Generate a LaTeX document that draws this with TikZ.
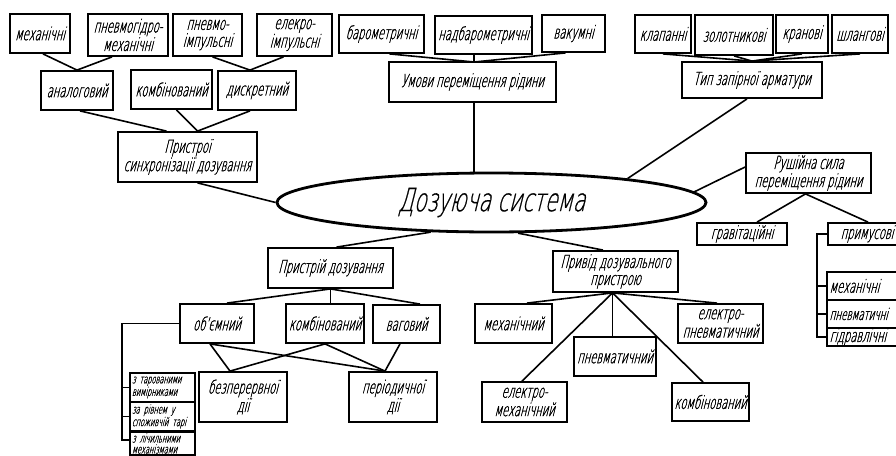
\documentclass[tikz,border=0pt]{standalone}
\usepackage{fontspec}
\newfontfamily\gost{DejaVu Sans ExtraLight}[FakeSlant=0.25,FakeStretch=0.55,FakeBold=1]
\newfontfamily\gostw{DejaVu Sans ExtraLight}[FakeSlant=0.25,FakeStretch=0.64,FakeBold=0.6]
\usetikzlibrary{shapes.geometric,calc}
\tikzset{
  box/.style={draw, line width=1.8pt, inner sep=0pt, align=center,
    font=\gost\fontsize{18}{17}\selectfont},
  lbox/.style={box, align=left, inner xsep=2.5pt, text width=75pt},
  sbox/.style={draw, line width=1.3pt, inner xsep=2pt, inner ysep=0pt, align=left,
    text width=61pt, minimum width=65pt, minimum height=29pt,
    font=\gost\fontsize{12}{11}\selectfont},
  conn/.style={line width=1.6pt},
}
\newcommand\mybox[6]{\node[box,minimum width=#4pt,minimum height=#5pt] (#1) at (#2,#3) {#6};}
\begin{document}
\begin{tikzpicture}[x=1pt,y=-1pt]
\useasboundingbox (0,0) rectangle (896,455);
\clip (0,0) rectangle (896,455);
\fill[white] (0,0) rectangle (896,455);

% top-left group
\mybox{mech1}{40}{33.5}{60}{39}{механічні}
\mybox{pg}{128}{35}{80}{42}{пневмогідро-\\механічні}
\mybox{pi}{207.5}{35}{69}{42}{пневмо-\\імпульсні}
\mybox{ei}{294.5}{35}{75}{42}{елекро-\\імпульсні}
\mybox{analog}{77}{90.5}{72}{39}{аналоговий}
\mybox{komb1}{171.5}{89.5}{81}{39}{комбінований}
\mybox{discr}{257}{90.5}{78}{39}{дискретний}
\mybox{sync}{187.5}{157}{139}{50}{Пристрої\\синхронізації дозування}

% top-middle group
\mybox{baro}{381.5}{34}{85}{38}{барометричні}
\mybox{nadb}{483.5}{35}{97}{38}{надбарометричні}
\mybox{vak}{573.5}{33.5}{63}{37}{вакумні}
\mybox{umovy}{472.5}{82}{167}{40}{Умови переміщення рідини}

% top-right group
\mybox{klap}{663}{34}{56}{38}{клапанні}
\mybox{zol}{734}{35}{78}{40}{золотникові}
\mybox{kran}{802}{34}{52}{38}{кранові}
\mybox{shl}{860}{34}{56}{38}{шлангові}
\mybox{typ}{752}{80}{140}{36}{Тип запірної арматури}

% central ellipse
\node[ellipse, draw, line width=2.8pt, inner sep=0pt, minimum width=429pt, minimum height=59pt,
  font=\gostw\fontsize{32}{32}\selectfont] (ell) at (491.5,202.5) {Дозуюча система};

% right group
\mybox{rush}{808.5}{173}{125}{40}{Рушійна сила\\переміщення рідини}
\mybox{grav}{742}{234}{90}{22}{гравітаційні}
\mybox{prym}{867}{234}{78}{22}{примусові}
\node[lbox, minimum width=80pt, minimum height=28pt] (mech2) at (867,286) {механічні};
\node[lbox, minimum width=80pt, minimum height=28pt, font=\gost\fontsize{16}{16}\selectfont] (pnev2) at (867,314) {пневматичні};
\node[lbox, minimum width=80pt, minimum height=18pt] (gidr) at (867,337) {гідравлічні};

% bottom-left group
\mybox{pdoz}{330.5}{268}{125}{40}{Пристрій дозування}
\mybox{obm}{217}{323.5}{74}{39}{об’ємний}
\mybox{komb2}{325}{323.5}{78}{39}{комбінований}
\mybox{vag}{406.5}{324}{67}{38}{ваговий}
\mybox{bezp}{243}{397}{88}{50}{безперервної\\дії}
\mybox{per}{393}{397}{88}{50}{періодичної\\дії}
\node[sbox] (s1) at (162.5,387.5) {з тарованими\\вимірниками};
\node[sbox] (s2) at (162.5,416.5) {за рівнем у\\споживчій тарі};
\node[sbox, minimum height=23pt] (s3) at (162.5,443.5) {з лічильними\\механізмами};

% bottom-right group
\mybox{privid}{615.5}{271.5}{125}{41}{Привід дозувального\\пристрою}
\mybox{mech3}{513.5}{323.5}{77}{39}{механічний}
\mybox{pnev3}{615}{356.5}{82}{39}{пневматичний}
\mybox{elpn}{720.5}{323.5}{85}{39}{електро-\\пневматичний}
\mybox{elmech}{524.5}{402}{85}{40}{електро-\\механічний}
\mybox{komb3}{710.5}{402}{77}{38}{комбінований}

% connectors: top-left
\draw[conn] ([xshift=3pt]mech1.south) -- (analog.north);
\draw[conn] ([xshift=-16pt]pg.south) -- (analog.north);
\draw[conn] ([xshift=5pt]pi.south) -- ([xshift=-7pt]discr.north);
\draw[conn] ([xshift=-11pt]ei.south) -- ([xshift=-7pt]discr.north);
\draw[conn] ([xshift=3pt]analog.south) -- ([xshift=-21pt]sync.north);
\draw[conn] ([xshift=5pt]komb1.south) -- ([xshift=10pt]sync.north);
\draw[conn] ([xshift=-7pt]discr.south) -- ([xshift=10pt]sync.north);
\draw[conn] ([xshift=10pt]sync.south) -- (ell.west);

% connectors: top-middle
\coordinate (um) at (474,62);
\draw[conn] ([xshift=8pt]baro.south) -- (um);
\draw[conn] (nadb.south -| um) -- (um);
\draw[conn] ([xshift=-8pt]vak.south) -- (um);
\draw[conn] (umovy.south -| um) -- (um |- ell.north);

% connectors: top-right
\draw[conn] (klap.south) -- (typ.north);
\draw[conn] (zol.south) -- (typ.north);
\draw[conn] (kran.south) -- (typ.north);
\draw[conn] (shl.south) -- (typ.north);
\draw[conn] ([xshift=-5pt]typ.south) -- (ell.10);

% connectors: right
\draw[conn] ([yshift=6pt]rush.west) -- (ell.3);
\draw[conn] ([xshift=-3pt]rush.south) -- ([xshift=15pt]grav.north);
\draw[conn] ([xshift=-3pt]rush.south) -- ([xshift=1pt]prym.north);
\draw[conn] (prym.west) -- ++(-10,0) |- (gidr.west);
\draw[conn] (mech2.west) -- ++(-9,0);
\draw[conn] (pnev2.west) -- ++(-9,0);

% connectors: bottom-left
\draw[conn] (ell.206) -- ([xshift=6pt]pdoz.north);
\draw[conn] (pdoz.south) -- ([xshift=10pt]obm.north);
\draw[conn] (pdoz.south) -- (pdoz.south |- komb2.north);
\draw[conn] (pdoz.south) -- ([xshift=13.5pt]vag.north);
\draw[conn] ([xshift=-7pt]obm.south) -- ([xshift=-13pt]bezp.north);
\draw[conn] ([xshift=-7pt]obm.south) -- ([xshift=-8pt]per.north);
\draw[conn] (komb2.south) -- ([xshift=-13pt]bezp.north);
\draw[conn] (komb2.south) -- ([xshift=-8pt]per.north);
\draw[conn] ([xshift=-6.5pt]vag.south) -- ([xshift=-8pt]per.north);
\coordinate (lb) at (122,440);
\draw[conn] (obm.west) -| (lb) -- (lb -| s3.west);
\draw[conn] (s1.west) -- (s1.west -| lb);
\draw[conn] (s2.west) -- (s2.west -| lb);

% connectors: bottom-right
\draw[conn] (ell.311) -- ([xshift=-12.5pt]privid.north);
\coordinate (pb) at ([xshift=-3pt]privid.south);
\draw[conn] (pb) -- ([xshift=13.5pt]mech3.north);
\draw[conn] (pb) -- ([xshift=-2.5pt]elmech.north);
\draw[conn] (pb) -- (pb |- pnev3.north);
\draw[conn] (pb) -- ([xshift=-7.5pt]komb3.north);
\draw[conn] (pb) -- ([xshift=-3.5pt]elpn.north);
\end{tikzpicture}
\end{document}
